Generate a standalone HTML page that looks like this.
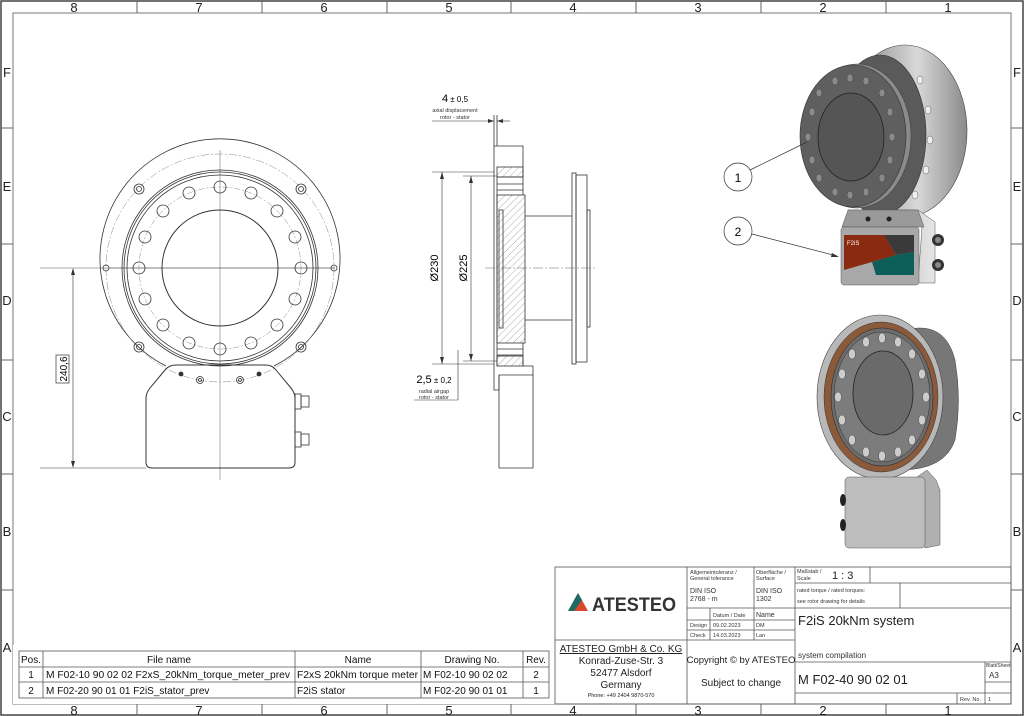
<!DOCTYPE html>
<html><head><meta charset="utf-8"><style>
html,body{margin:0;padding:0;background:#fff}
svg{display:block;font-family:"Liberation Sans",sans-serif}
</style></head><body>
<svg width="1024" height="716" viewBox="0 0 1024 716" xmlns="http://www.w3.org/2000/svg">
<defs>
<pattern id="h" width="5" height="5" patternUnits="userSpaceOnUse" patternTransform="rotate(45)"><line x1="0" y1="0" x2="0" y2="5" stroke="#888" stroke-width="0.7"/></pattern>
<linearGradient id="g1" x1="0" x2="1"><stop offset="0" stop-color="#7a7a7a"/><stop offset="0.6" stop-color="#d8d8d8"/><stop offset="1" stop-color="#8a8a8a"/></linearGradient>
<linearGradient id="g2" x1="0" x2="1"><stop offset="0" stop-color="#a0a0a0"/><stop offset="1" stop-color="#e6e6e6"/></linearGradient>
</defs>
<rect width="1024" height="716" fill="#fff"/>
<rect x="1" y="1" width="1022" height="714" fill="none" stroke="#444" stroke-width="1.5"/>
<rect x="13" y="13" width="998" height="691" fill="none" stroke="#777" stroke-width="1"/>
<g stroke="#666" stroke-width="1">
<line x1="137" y1="1" x2="137" y2="13"/><line x1="262" y1="1" x2="262" y2="13"/><line x1="387" y1="1" x2="387" y2="13"/><line x1="511" y1="1" x2="511" y2="13"/><line x1="636" y1="1" x2="636" y2="13"/><line x1="761" y1="1" x2="761" y2="13"/><line x1="886" y1="1" x2="886" y2="13"/>
<line x1="137" y1="704" x2="137" y2="715"/><line x1="262" y1="704" x2="262" y2="715"/><line x1="387" y1="704" x2="387" y2="715"/><line x1="511" y1="704" x2="511" y2="715"/><line x1="636" y1="704" x2="636" y2="715"/><line x1="761" y1="704" x2="761" y2="715"/><line x1="886" y1="704" x2="886" y2="715"/>
<line x1="1" y1="128" x2="13" y2="128"/><line x1="1" y1="244" x2="13" y2="244"/><line x1="1" y1="360" x2="13" y2="360"/><line x1="1" y1="474" x2="13" y2="474"/><line x1="1" y1="590" x2="13" y2="590"/>
<line x1="1011" y1="128" x2="1023" y2="128"/><line x1="1011" y1="244" x2="1023" y2="244"/><line x1="1011" y1="360" x2="1023" y2="360"/><line x1="1011" y1="474" x2="1023" y2="474"/><line x1="1011" y1="590" x2="1023" y2="590"/>
</g>
<g font-size="13" fill="#222" text-anchor="middle">
<text x="74" y="12">8</text><text x="199" y="12">7</text><text x="324" y="12">6</text><text x="449" y="12">5</text><text x="573" y="12">4</text><text x="698" y="12">3</text><text x="823" y="12">2</text><text x="948" y="12">1</text>
<text x="74" y="715">8</text><text x="199" y="715">7</text><text x="324" y="715">6</text><text x="449" y="715">5</text><text x="573" y="715">4</text><text x="698" y="715">3</text><text x="823" y="715">2</text><text x="948" y="715">1</text>
<text x="7" y="77">F</text><text x="7" y="191">E</text><text x="7" y="305">D</text><text x="7" y="421">C</text><text x="7" y="536">B</text><text x="7" y="652">A</text>
<text x="1017" y="77">F</text><text x="1017" y="191">E</text><text x="1017" y="305">D</text><text x="1017" y="421">C</text><text x="1017" y="536">B</text><text x="1017" y="652">A</text>
</g>

<g fill="none" stroke="#333" stroke-width="0.8">
<line x1="220" y1="150" x2="220" y2="480" stroke="#999"/>
<line x1="110" y1="268" x2="335" y2="268" stroke="#555"/>
<line x1="40" y1="268" x2="110" y2="268" stroke="#555" stroke-width="0.6"/>
<path d="M 166 366 A 120 120 0 1 1 274 366"/>
<circle cx="220" cy="268" r="114" stroke="#888" stroke-dasharray="8 2 2 2" stroke-width="0.5"/>
<circle cx="220" cy="268" r="98"/><circle cx="220" cy="268" r="96"/><circle cx="220" cy="268" r="93"/>
<circle cx="220" cy="268" r="81" stroke="#888" stroke-dasharray="6 2 2 2" stroke-width="0.5"/>
<circle cx="220" cy="268" r="58" stroke-width="1"/>
<g>
<circle cx="301" cy="268" r="6"/><circle cx="295" cy="299" r="6"/><circle cx="277" cy="325" r="6"/><circle cx="251" cy="343" r="6"/><circle cx="220" cy="349" r="6"/><circle cx="189" cy="343" r="6"/><circle cx="163" cy="325" r="6"/><circle cx="145" cy="299" r="6"/><circle cx="139" cy="268" r="6"/><circle cx="145" cy="237" r="6"/><circle cx="163" cy="211" r="6"/><circle cx="189" cy="193" r="6"/><circle cx="220" cy="187" r="6"/><circle cx="251" cy="193" r="6"/><circle cx="277" cy="211" r="6"/><circle cx="295" cy="237" r="6"/>
</g>
<circle cx="139" cy="189" r="5"/><circle cx="139" cy="189" r="2.5"/><circle cx="301" cy="189" r="5"/><circle cx="301" cy="189" r="2.5"/>
<circle cx="139" cy="347" r="5"/><circle cx="139" cy="347" r="2.5"/><circle cx="301" cy="347" r="5"/><circle cx="301" cy="347" r="2.5"/>
<circle cx="106" cy="268" r="3"/><circle cx="334" cy="268" r="3"/>
<path d="M 176 365 L 266 365 Q 272 365 276 370 L 291 388 Q 295 393 295 398 L 295 462 Q 295 468 289 468 L 152 468 Q 146 468 146 462 L 146 398 Q 146 393 150 388 L 165 370 Q 169 365 176 365 Z" stroke-width="1"/>
<circle cx="181" cy="374" r="2" fill="#333"/><circle cx="259" cy="374" r="2" fill="#333"/>
<circle cx="200" cy="380" r="3.5"/><circle cx="200" cy="380" r="1.5"/><circle cx="240" cy="380" r="3.5"/><circle cx="240" cy="380" r="1.5"/>
<rect x="295" y="394" width="6" height="15"/><rect x="301" y="396" width="8" height="11"/>
<rect x="295" y="432" width="6" height="15"/><rect x="301" y="434" width="8" height="11"/>
<line x1="40" y1="468" x2="146" y2="468" stroke-width="0.6"/>
<line x1="73" y1="270" x2="73" y2="466" stroke-width="0.6"/>
</g>
<path d="M73 268 l-2 7 h4 z M73 468 l-2 -7 h4 z" fill="#333"/>
<rect x="56" y="355" width="13" height="28" fill="#fff" stroke="#333" stroke-width="0.7"/>
<text x="67" y="369" font-size="10" text-anchor="middle" transform="rotate(-90 67 369)">240,6</text>

<g fill="none" stroke="#333" stroke-width="0.8">
<line x1="494" y1="115" x2="494" y2="146"/><line x1="497" y1="115" x2="497" y2="146"/>
<line x1="432" y1="121" x2="494" y2="121" stroke-width="0.6"/><line x1="497" y1="121" x2="510" y2="121" stroke-width="0.6"/>
<rect x="497" y="195" width="28" height="148" fill="url(#h)"/>
<rect x="497" y="167" width="26" height="10" fill="url(#h)"/>
<rect x="497" y="356" width="26" height="10" fill="url(#h)"/>
<path d="M494 146 H523 V177 H497 M494 146 V390 H499 V375"/>
<line x1="497" y1="177" x2="497" y2="366"/>
<line x1="497" y1="184" x2="523" y2="184"/><line x1="497" y1="190" x2="523" y2="190"/>
<line x1="497" y1="349" x2="523" y2="349"/><line x1="497" y1="355" x2="523" y2="355"/>
<line x1="523" y1="177" x2="523" y2="195"/><line x1="523" y1="343" x2="523" y2="366"/>
<rect x="499" y="210" width="4" height="118"/>
<path d="M525 216 H572 M525 320 H572"/>
<rect x="572" y="173" width="4" height="191"/>
<rect x="576" y="175" width="11" height="187"/>
<rect x="587" y="210" width="3" height="117"/>
<path d="M499 375 H533 V468 H499 Z"/>
<path d="M523 366 H533 V375"/>
<line x1="485" y1="268" x2="595" y2="268" stroke="#666" stroke-dasharray="10 2 2 2" stroke-width="0.5"/>
<line x1="432" y1="172" x2="494" y2="172" stroke-width="0.5"/><line x1="432" y1="364" x2="494" y2="364" stroke-width="0.5"/>
<line x1="463" y1="176" x2="497" y2="176" stroke-width="0.5"/><line x1="463" y1="361" x2="497" y2="361" stroke-width="0.5"/>
<line x1="442" y1="172" x2="442" y2="364" stroke-width="0.6"/>
<line x1="471" y1="176" x2="471" y2="361" stroke-width="0.6"/>
<line x1="458" y1="350" x2="458" y2="400" stroke-width="0.6"/>
<line x1="414" y1="400" x2="458" y2="400" stroke-width="0.6"/>
</g>
<path d="M442 172 l-2 7 h4z M442 364 l-2 -7 h4z M471 176 l-2 7 h4z M471 361 l-2 -7 h4z M494 121 l-6 -2 v4z M497 121 l6 -2 v4z" fill="#333"/>
<text x="438" y="268" font-size="11" text-anchor="middle" transform="rotate(-90 438 268)">Ø230</text>
<text x="467" y="268" font-size="11" text-anchor="middle" transform="rotate(-90 467 268)">Ø225</text>
<text x="455" y="102" font-size="11" text-anchor="middle">4<tspan font-size="8"> ± 0,5</tspan></text>
<text x="455" y="112" font-size="5.5" text-anchor="middle" fill="#333">axial displacement</text>
<text x="455" y="119" font-size="5.5" text-anchor="middle" fill="#333">rotor - stator</text>
<text x="434" y="383" font-size="11" text-anchor="middle">2,5<tspan font-size="8"> ± 0,2</tspan></text>
<text x="434" y="393" font-size="5.5" text-anchor="middle" fill="#333">radial airgap</text>
<text x="434" y="399" font-size="5.5" text-anchor="middle" fill="#333">rotor - stator</text>

<ellipse cx="905" cy="131" rx="62" ry="86" fill="url(#g1)" stroke="#444" stroke-width="0.6"/>
<ellipse cx="880" cy="135" rx="46" ry="80" fill="#5a5a5a" stroke="#333" stroke-width="0.6"/>
<ellipse cx="857" cy="136" rx="54" ry="72" fill="#8a8a8a" stroke="#444" stroke-width="0.6"/>
<ellipse cx="853" cy="136" rx="53" ry="71" fill="#5f5f5f" stroke="#333" stroke-width="0.6"/>
<ellipse cx="851" cy="137" rx="33" ry="44" fill="#555" stroke="#222" stroke-width="0.8"/>
<g fill="#8a8a8a" stroke="#333" stroke-width="0.4">
<ellipse cx="835" cy="81" rx="3" ry="4"/><ellipse cx="866" cy="81" rx="3" ry="4"/><ellipse cx="882" cy="93" rx="3" ry="4"/><ellipse cx="890" cy="112" rx="3" ry="4"/><ellipse cx="892" cy="137" rx="3" ry="4"/><ellipse cx="890" cy="160" rx="3" ry="4"/><ellipse cx="882" cy="178" rx="3" ry="4"/><ellipse cx="866" cy="192" rx="3" ry="4"/><ellipse cx="850" cy="195" rx="3" ry="4"/><ellipse cx="835" cy="192" rx="3" ry="4"/><ellipse cx="819" cy="178" rx="3" ry="4"/><ellipse cx="812" cy="160" rx="3" ry="4"/><ellipse cx="808" cy="137" rx="3" ry="4"/><ellipse cx="812" cy="112" rx="3" ry="4"/><ellipse cx="819" cy="93" rx="3" ry="4"/><ellipse cx="850" cy="78" rx="3" ry="4"/>
<ellipse cx="920" cy="80" rx="3" ry="4" fill="#eee"/><ellipse cx="928" cy="110" rx="3" ry="4" fill="#eee"/><ellipse cx="930" cy="140" rx="3" ry="4" fill="#eee"/><ellipse cx="926" cy="170" rx="3" ry="4" fill="#eee"/><ellipse cx="915" cy="195" rx="3" ry="4" fill="#eee"/>
</g>
<path d="M848 210 H918 L935 222 V283 H918 L922 227 Z" fill="url(#g2)" stroke="#555" stroke-width="0.5"/>
<path d="M842 227 L848 210 H918 L924 227 Z" fill="#9a9a9a" stroke="#555" stroke-width="0.5"/>
<rect x="841" y="227" width="78" height="58" rx="3" fill="#a8a8a8" stroke="#555" stroke-width="0.5"/>
<path d="M844 235 H884 L896 255 L872 262 L844 270 Z" fill="#8a2a10"/>
<path d="M884 235 H914 V252 L896 255 Z" fill="#3a3a3a"/>
<path d="M872 262 L896 255 L914 252 V275 H876 Q874 268 872 262 Z" fill="#0d5e58"/>
<text x="847" y="245" font-size="6" fill="#fff">F2iS</text>
<circle cx="868" cy="219" r="2.5" fill="#222"/><circle cx="889" cy="219" r="2.5" fill="#222"/>
<circle cx="938" cy="240" r="6" fill="#333"/><circle cx="938" cy="265" r="6" fill="#333"/>
<circle cx="938" cy="240" r="3" fill="#888"/><circle cx="938" cy="265" r="3" fill="#888"/>
<g fill="#fff" stroke="#333" stroke-width="0.7">
<circle cx="738" cy="177" r="14"/><circle cx="738" cy="231" r="14"/>
<line x1="750" y1="170" x2="807" y2="142"/><line x1="752" y1="234" x2="837" y2="256"/>
</g>
<path d="M839 257 l-7 -4 l-1 4z" fill="#333"/>
<text x="738" y="182" font-size="12" text-anchor="middle">1</text>
<text x="738" y="236" font-size="12" text-anchor="middle">2</text>

<path d="M905 330 Q945 320 955 360 Q962 400 955 440 Q945 470 900 470 Z" fill="#777" stroke="#444" stroke-width="0.5"/>
<path d="M880 315 Q930 315 938 397 Q930 480 880 479 Z" fill="url(#g1)"/>
<ellipse cx="880" cy="397" rx="63" ry="82" fill="#b8b8b8" stroke="#444" stroke-width="0.6"/>
<ellipse cx="881" cy="397" rx="57" ry="75" fill="#8b5a3a" stroke="#333" stroke-width="0.5"/>
<ellipse cx="882" cy="397" rx="51" ry="69" fill="#6c6c6c" stroke="#222" stroke-width="0.5"/>
<ellipse cx="882" cy="397" rx="48" ry="65" fill="#7c7c7c" stroke="#333" stroke-width="0.5"/>
<ellipse cx="883" cy="393" rx="30" ry="42" fill="#6a6a6a" stroke="#222" stroke-width="0.8"/>
<g fill="#ccc" stroke="#333" stroke-width="0.4">
<ellipse cx="926" cy="397" rx="3.5" ry="5"/><ellipse cx="922" cy="420" rx="3.5" ry="5"/><ellipse cx="912" cy="440" rx="3.5" ry="5"/><ellipse cx="898" cy="452" rx="3.5" ry="5"/><ellipse cx="882" cy="456" rx="3.5" ry="5"/><ellipse cx="866" cy="452" rx="3.5" ry="5"/><ellipse cx="852" cy="440" rx="3.5" ry="5"/><ellipse cx="842" cy="420" rx="3.5" ry="5"/><ellipse cx="838" cy="397" rx="3.5" ry="5"/><ellipse cx="842" cy="374" rx="3.5" ry="5"/><ellipse cx="852" cy="354" rx="3.5" ry="5"/><ellipse cx="866" cy="342" rx="3.5" ry="5"/><ellipse cx="882" cy="338" rx="3.5" ry="5"/><ellipse cx="898" cy="342" rx="3.5" ry="5"/><ellipse cx="912" cy="354" rx="3.5" ry="5"/><ellipse cx="922" cy="374" rx="3.5" ry="5"/>
</g>
<path d="M917 477 L927 470 L936 480 L940 490 V545 L925 548 Z" fill="#b0b0b0" stroke="#555" stroke-width="0.5"/>
<rect x="845" y="477" width="80" height="71" rx="4" fill="#bdbdbd" stroke="#555" stroke-width="0.5"/>
<ellipse cx="843" cy="500" rx="3" ry="6" fill="#222"/><ellipse cx="843" cy="525" rx="3" ry="6" fill="#222"/>

<rect x="13" y="645" width="542" height="59" fill="#fff"/>
<g fill="none" stroke="#555" stroke-width="0.8">
<rect x="19" y="651" width="530" height="47"/>
<line x1="19" y1="667" x2="549" y2="667"/><line x1="19" y1="682" x2="549" y2="682"/>
<line x1="43" y1="651" x2="43" y2="698"/><line x1="295" y1="651" x2="295" y2="698"/><line x1="421" y1="651" x2="421" y2="698"/><line x1="523" y1="651" x2="523" y2="698"/>
</g>
<g font-size="10" fill="#111">
<text x="31" y="663" text-anchor="middle">Pos.</text><text x="169" y="663" text-anchor="middle">File name</text><text x="358" y="663" text-anchor="middle">Name</text><text x="472" y="663" text-anchor="middle">Drawing No.</text><text x="536" y="663" text-anchor="middle">Rev.</text>
<text x="31" y="678" text-anchor="middle">1</text><text x="46" y="678" textLength="244" lengthAdjust="spacingAndGlyphs">M F02-10 90 02 02  F2xS_20kNm_torque_meter_prev</text><text x="297" y="678" textLength="121" lengthAdjust="spacingAndGlyphs">F2xS 20kNm torque meter</text><text x="423" y="678">M F02-10 90 02 02</text><text x="536" y="678" text-anchor="middle">2</text>
<text x="31" y="694" text-anchor="middle">2</text><text x="46" y="694">M F02-20 90 01 01  F2iS_stator_prev</text><text x="297" y="694">F2iS stator</text><text x="423" y="694">M F02-20 90 01 01</text><text x="536" y="694" text-anchor="middle">1</text>
</g>

<g fill="none" stroke="#555" stroke-width="0.8">
<rect x="555" y="567" width="456" height="137"/>
<line x1="555" y1="640" x2="795" y2="640"/>
<line x1="687" y1="567" x2="687" y2="704"/><line x1="795" y1="567" x2="795" y2="704"/>
<line x1="754" y1="567" x2="754" y2="640"/>
<line x1="687" y1="608" x2="1011" y2="608"/>
<line x1="687" y1="620" x2="795" y2="620"/><line x1="687" y1="630" x2="795" y2="630"/>
<line x1="710" y1="608" x2="710" y2="640"/>
<line x1="795" y1="583" x2="1011" y2="583"/>
<line x1="870" y1="567" x2="870" y2="583"/><line x1="900" y1="583" x2="900" y2="608"/>
<line x1="795" y1="662" x2="1011" y2="662"/><line x1="795" y1="693" x2="1011" y2="693"/>
<line x1="985" y1="662" x2="985" y2="704"/><line x1="985" y1="682" x2="1011" y2="682"/>
<line x1="957" y1="693" x2="957" y2="704"/>
</g>
<path d="M568 611 L578 593 L588 611 Z" fill="#d9482b"/>
<path d="M568 611 L578 593 L582 600 L574 611 Z" fill="#1e6b66"/>
<text x="592" y="611" font-size="19" font-weight="bold" fill="#333" textLength="84" lengthAdjust="spacingAndGlyphs">ATESTEO</text>
<g fill="#333" font-size="5.5">
<text x="690" y="574">Allgemeintoleranz /</text><text x="690" y="580">General tolerance</text>
<text x="690" y="593" font-size="7">DIN ISO</text><text x="690" y="601" font-size="7">2768 - m</text>
<text x="756" y="574">Oberfläche /</text><text x="756" y="580">Surface</text>
<text x="756" y="593" font-size="7">DIN ISO</text><text x="756" y="601" font-size="7">1302</text>
<text x="797" y="573">Maßstab /</text><text x="797" y="580">Scale</text>
<text x="797" y="592">rated torque / rated torques:</text><text x="797" y="603">see rotor drawing for details</text>
<text x="713" y="617">Datum / Date</text><text x="756" y="617" font-size="7">Name</text>
<text x="690" y="627">Design</text><text x="713" y="627">09.02.2023</text><text x="756" y="627">DM</text>
<text x="690" y="637">Check</text><text x="713" y="637">14.03.2023</text><text x="756" y="637">Lan</text>
<text x="986" y="667" font-size="5">Blatt/Sheet</text>
<text x="960" y="701">Rev. No.</text><text x="988" y="701">1</text>
</g>
<text x="832" y="579" font-size="11" fill="#222">1 : 3</text>
<text x="798" y="625" font-size="13" fill="#222">F2iS 20kNm system</text>
<text x="798" y="658" font-size="8" fill="#333">system compilation</text>
<text x="798" y="684" font-size="13" fill="#222">M F02-40 90 02 01</text>
<text x="989" y="678" font-size="8" fill="#333">A3</text>
<g font-size="10" fill="#222" text-anchor="middle">
<text x="621" y="652" text-decoration="underline">ATESTEO GmbH &amp; Co. KG</text>
<text x="621" y="664">Konrad-Zuse-Str. 3</text>
<text x="621" y="676">52477 Alsdorf</text>
<text x="621" y="688">Germany</text>
<text x="621" y="697" font-size="5.5">Phone: +49 2404 9870-570</text>
<text x="741" y="663" font-size="9.5">Copyright © by ATESTEO</text>
<text x="741" y="686">Subject to change</text>
</g>
</svg>
</body></html>
